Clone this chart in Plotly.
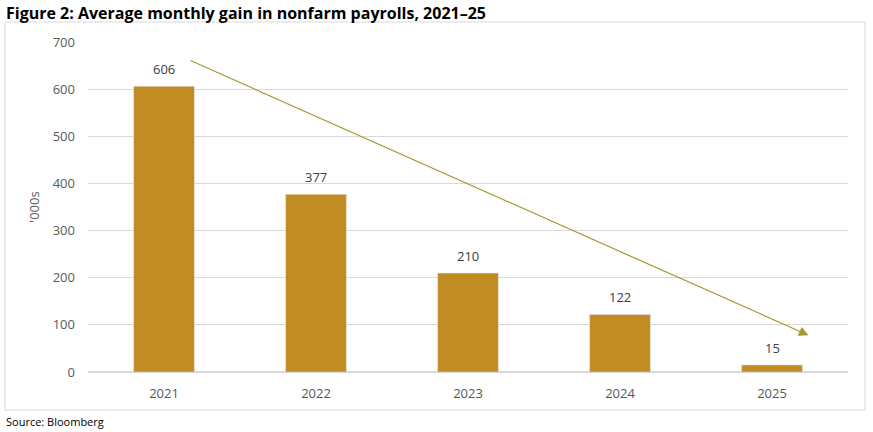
import plotly.graph_objects as go

years = ["2021", "2022", "2023", "2024", "2025"]
gains = [606, 377, 210, 122, 15]
yticks = [0, 100, 200, 300, 400, 500, 600, 700]

BAR = "#C08C23"
ARROW = "#A8962E"
FONT = "Open Sans, Liberation Sans, sans-serif"

fig = go.Figure()
fig.add_trace(go.Bar(x=years, y=gains, marker_color=BAR, width=0.4))

for i, v in enumerate(gains):
    fig.add_annotation(x=i, y=v, xref="x", yref="y", text=str(v), showarrow=False,
                       yanchor="bottom", yshift=6,
                       font=dict(size=13, color="#404040", family=FONT))

L, R, T, B = 88, 25, 42, 60
W, H = 873, 432
pw, ph = W - L - R, H - T - B

def px(x):
    return (x - L) / pw

def py(y):
    return (H - B - y) / ph

fig.update_layout(
    width=W, height=H,
    margin=dict(l=L, r=R, t=T, b=B),
    paper_bgcolor="white", plot_bgcolor="white",
    showlegend=False,
    font=dict(family=FONT, color="#595959"),
    xaxis=dict(type="category", showgrid=False, showline=False, ticks="",
               tickfont=dict(size=13, color="#595959"), range=[-0.5, 4.5],
               ticklabelstandoff=12),
    yaxis=dict(range=[0, 700], tickvals=yticks, showgrid=True, gridcolor="#D9D9D9",
               gridwidth=1, zeroline=True, zerolinecolor="#D9D9D9", showline=False,
               ticks="", tickfont=dict(size=13, color="#595959"), ticklabelstandoff=12,
               title=dict(text="'000s", font=dict(size=13, color="#595959"), standoff=10)),
    shapes=[dict(type="rect", xref="paper", yref="paper",
                 x0=px(5), x1=px(865), y0=py(410), y1=py(22),
                 line=dict(color="#D9D9D9", width=1), fillcolor="rgba(0,0,0,0)", layer="below")],
)

fig.add_annotation(
    x=4.24, y=78, ax=0.164, ay=662, xref="x", yref="y", axref="x", ayref="y",
    showarrow=True, arrowhead=2, arrowsize=1.6, arrowwidth=1.2, arrowcolor=ARROW, text="",
)

fig.add_annotation(text="<b>Figure 2: Average monthly gain in nonfarm payrolls, 2021–25</b>",
                   xref="paper", yref="paper", x=px(4), y=py(13), xanchor="left", yanchor="middle",
                   showarrow=False, font=dict(size=16, color="#000000", family=FONT))
fig.add_annotation(text="Source: Bloomberg",
                   xref="paper", yref="paper", x=px(4), y=py(421), xanchor="left", yanchor="middle",
                   showarrow=False, font=dict(size=11, color="#000000", family=FONT))

fig.write_html("out.html")
